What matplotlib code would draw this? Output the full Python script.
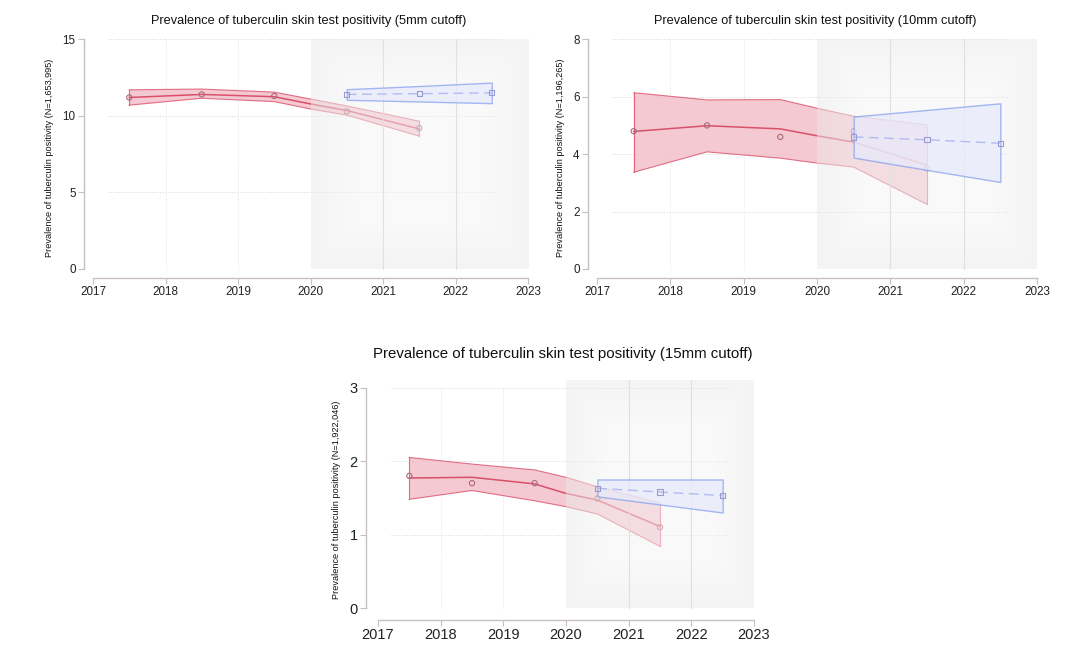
import matplotlib
matplotlib.use('Agg')
import matplotlib.pyplot as plt
import numpy as np

plt.rcParams['font.family'] = ['Liberation Sans', 'DejaVu Sans']

# años observados y puntos del ajuste
anios = [2017.5, 2018.5, 2019.5, 2020.5, 2021.5]
anios_ajuste = [2017.5, 2018.5, 2019.5, 2020.0, 2020.5, 2021.5]
anios_pand = [2020.5, 2021.5, 2022.5]
xticks = [2017, 2018, 2019, 2020, 2021, 2022, 2023]

# (a) 5mm
obs_5 = [11.2, 11.4, 11.3, 10.3, 9.2]
fit_5 = [11.2, 11.4, 11.25, 10.78, 10.35, 9.15]
lo_5 = [10.7, 11.15, 10.93, 10.45, 10.05, 8.68]
hi_5 = [11.7, 11.75, 11.55, 11.1, 10.65, 9.65]
pand_5 = [11.4, 11.45, 11.5]
pand_lo_5 = [11.05, 10.94, 10.83]
pand_hi_5 = [11.74, 11.95, 12.17]

# (b) 10mm
obs_10 = [4.8, 5.0, 4.6, 4.8, 3.5]
fit_10 = [4.79, 4.99, 4.88, 4.64, 4.42, 3.62]
lo_10 = [3.37, 4.08, 3.86, 3.69, 3.55, 2.25]
hi_10 = [6.14, 5.89, 5.9, 5.6, 5.32, 5.02]
pand_10 = [4.6, 4.5, 4.38]
pand_lo_10 = [3.88, 3.45, 3.03]
pand_hi_10 = [5.31, 5.54, 5.77]

# (c) 15mm
obs_15 = [1.8, 1.7, 1.7, 1.49, 1.1]
fit_15 = [1.77, 1.78, 1.69, 1.56, 1.47, 1.11]
lo_15 = [1.48, 1.6, 1.46, 1.38, 1.28, 0.84]
hi_15 = [2.05, 1.96, 1.88, 1.78, 1.65, 1.43]
pand_15 = [1.63, 1.58, 1.53]
pand_lo_15 = [1.52, 1.41, 1.3]
pand_hi_15 = [1.75, 1.75, 1.75]

ROJO = '#d9506a'
ROJO_FILL = '#f2b8c4'
AZUL = '#7f9cf0'
AZUL_FILL = '#e6eafb'

W, H = 1080, 662


def sombra(ax, ymax):
    # rectángulo gris semitransparente, algo más claro en el centro
    ny, nx = 60, 60
    yy, xx = np.mgrid[0:1:ny * 1j, 0:1:nx * 1j]
    d = np.minimum(np.minimum(xx, 1 - xx), np.minimum(yy, 1 - yy))
    g = 0.915 + 0.04 * np.clip(d / 0.2, 0, 1)
    img = np.zeros((ny, nx, 4))
    img[..., 0] = g
    img[..., 1] = g
    img[..., 2] = g
    img[..., 3] = 0.5
    ax.imshow(img, extent=[2020, 2023, 0, ymax], origin='lower', aspect='auto',
              interpolation='bilinear', zorder=4)


def panel(fig, px, titulo, ylab, obs, fit, lo, hi, pand, plo, phi,
          yticks, ymax_sombra, fs_tick, fs_tit, fs_ylab, pad_tit):
    yax, x17, x23, y0, ytop, vtop, xax, top_px = px
    sx = (x23 - x17) / 6.0
    sy = (y0 - ytop) / vtop
    xl = 2017 - (x17 - yax) / sx
    xr = 2023 + 6 / sx
    yb = -(xax - y0) / sy
    yt = vtop + (ytop - top_px) / sy
    left = yax / W
    right = (x23 + 6) / W
    ax = fig.add_axes([left, 1 - xax / H, right - left, (xax - top_px) / H])

    # rejilla punteada
    for yv in yticks[1:]:
        ax.plot([2017.2, 2022.6], [yv, yv], color='#d8d8d8', lw=0.7, ls=':', zorder=0.6)
    for xv in [2018, 2019]:
        ax.plot([xv, xv], [0, yticks[-1]], color='#e3e3e3', lw=0.7, ls=':', zorder=0.6)

    # banda de ajuste pre-pandemia
    ax.fill_between(anios_ajuste, lo, hi, facecolor=ROJO_FILL, alpha=0.75, lw=0, zorder=2)
    ax.plot(anios_ajuste, lo, color=ROJO, lw=0.8, alpha=0.8, zorder=2.2)
    ax.plot(anios_ajuste, hi, color=ROJO, lw=0.8, alpha=0.8, zorder=2.2)
    ax.plot([anios_ajuste[0]] * 2, [lo[0], hi[0]], color=ROJO, lw=0.8, alpha=0.8, zorder=2.2)
    ax.plot([anios_ajuste[-1]] * 2, [lo[-1], hi[-1]], color=ROJO, lw=0.8, alpha=0.8, zorder=2.2)
    ax.plot(anios_ajuste, fit, color=ROJO, lw=1.1, zorder=3)
    ax.scatter(anios, obs, s=14, facecolors='none', edgecolors='#a86a7c', lw=0.8, zorder=3.5)

    # zona pandemia
    sombra(ax, ymax_sombra)
    for xv in [2021, 2022]:
        ax.plot([xv, xv], [0, ymax_sombra], color='#e0e0e0', lw=0.8, zorder=4.1)

    # proyección
    ax.fill_between(anios_pand, plo, phi, facecolor=AZUL_FILL, edgecolor=AZUL,
                    alpha=0.7, lw=1.0, zorder=5)
    ax.plot(anios_pand, pand, color='#b0bcef', lw=1.0, ls=(0, (7, 4)), zorder=5.5)
    ax.scatter(anios_pand, pand, s=14, marker='s', facecolors='none',
               edgecolors='#9a9ad0', lw=0.8, zorder=6)

    ax.set_xlim(xl, xr)
    ax.set_ylim(yb, yt)
    ax.set_xticks(xticks)
    ax.set_yticks(yticks)
    ax.set_facecolor('none')
    for s in ['top', 'right']:
        ax.spines[s].set_visible(False)
    ax.spines['left'].set_bounds(0, yticks[-1])
    ax.spines['bottom'].set_bounds(2017, 2023)
    for s in ['left', 'bottom']:
        ax.spines[s].set_color('#c8bfbf')
        ax.spines[s].set_linewidth(1.0)
    ax.tick_params(axis='both', colors='#c8bfbf', length=4, width=0.8,
                   labelcolor='#222222', labelsize=fs_tick, pad=2)
    ax.set_ylabel(ylab, fontsize=fs_ylab, color='#111111', labelpad=6)
    ax.set_title(titulo, fontsize=fs_tit, color='#111111', pad=pad_tit)
    return ax


fig = plt.figure(figsize=(10.8, 6.62), dpi=100)

panel(fig, (84, 93, 528, 269, 39.3, 15, 278, 38),
      'Prevalence of tuberculin skin test positivity (5mm cutoff)',
      'Prevalence of tuberculin positivity (N=1,653,995)',
      obs_5, fit_5, lo_5, hi_5, pand_5, pand_lo_5, pand_hi_5,
      [0, 5, 10, 15], 15, 8.4, 9.2, 6.6, 10)

panel(fig, (588, 597, 1037, 269, 39.3, 8, 278, 38),
      'Prevalence of tuberculin skin test positivity (10mm cutoff)',
      'Prevalence of tuberculin positivity (N=1,196,265)',
      obs_10, fit_10, lo_10, hi_10, pand_10, pand_lo_10, pand_hi_10,
      [0, 2, 4, 6, 8], 8, 8.4, 9.2, 6.6, 10)

panel(fig, (366, 378, 754, 608, 387.7, 3, 620, 380),
      'Prevalence of tuberculin skin test positivity (15mm cutoff)',
      'Prevalence of tuberculin positivity (N=1,922,046)',
      obs_15, fit_15, lo_15, hi_15, pand_15, pand_lo_15, pand_hi_15,
      [0, 1, 2, 3], 3.1, 10.5, 10.8, 6.6, 16)

plt.savefig('out.png', dpi=100)
